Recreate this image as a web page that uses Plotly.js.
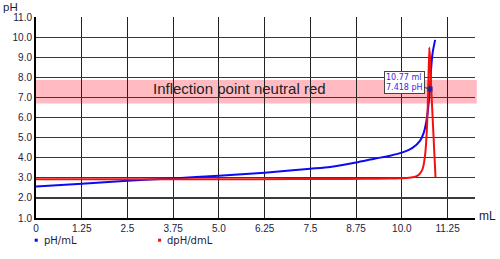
<!DOCTYPE html>
<html>
<head>
<meta charset="utf-8">
<script src="https://cdn.plot.ly/plotly-3.0.1.min.js"></script>
<style>html,body{margin:0;padding:0;background:#fff;}#chart{width:500px;height:259px;}</style>
</head>
<body>
<div id="chart"></div>
<script>
// pH titration curve (blue)
const phVolume = [0, 1.25, 2.5, 3.75, 5.0, 6.25, 7.5, 8.04, 8.75, 9.25, 9.68, 10.0, 10.3, 10.5, 10.6, 10.66, 10.71, 10.74, 10.77, 10.8, 10.84, 10.88, 10.91];
const phValues = [2.57, 2.71, 2.85, 2.97, 3.1, 3.25, 3.45, 3.54, 3.76, 3.95, 4.1, 4.25, 4.5, 4.85, 5.25, 5.7, 6.3, 6.85, 7.418, 8.4, 9.2, 9.6, 9.86];
// derivative dpH/dmL (red)
const dVolume = [0, 2, 4, 6, 8, 9, 9.68, 10, 10.2, 10.37, 10.48, 10.57, 10.64, 10.69, 10.72, 10.75, 10.77, 10.8, 10.86, 10.92];
const dValues = [2.93, 2.93, 2.93, 2.93, 2.94, 2.95, 2.96, 2.98, 3.0, 3.06, 3.18, 3.45, 4.2, 5.6, 7.3, 9.48, 9.0, 7.6, 5.3, 3.04];
// inflection point
const inflX = [10.77];
const inflY = [7.418];
const inflLabel = "10.77 ml<br>7.418 pH";
const bandLow = 6.7, bandHigh = 7.87;
const bandText = "Inflection point neutral red";
const xTickVals = [0, 1.25, 2.5, 3.75, 5.0, 6.25, 7.5, 8.75, 10.0, 11.25];
const xTickText = ["0", "1.25", "2.5", "3.75", "5.0", "6.25", "7.5", "8.75", "10.0", "11.25"];
const yTickVals = [1, 2, 3, 4, 5, 6, 7, 8, 9, 10, 11];
const yTickText = ["1.0", "2.0", "3.0", "4.0", "5.0", "6.0", "7.0", "8.0", "9.0", "10.0", "11.0"];
const seriesNames = ["pH/mL", "dpH/dmL"];
const seriesColors = ["#0a0af5", "#f51010"];

const txtColor = "#1c1c3c";
const tickFont = {family: "Liberation Sans, Arial, sans-serif", size: 10, color: txtColor};
const labelFont = {family: "DejaVu Sans, Tahoma, sans-serif", size: 10, color: txtColor};

const traces = [
  {x: phVolume, y: phValues, mode: "lines", name: seriesNames[0], line: {color: seriesColors[0], width: 2, shape: "spline", smoothing: 0.6}, hoverinfo: "skip"},
  {x: dVolume, y: dValues, mode: "lines", name: seriesNames[1], line: {color: seriesColors[1], width: 2, shape: "spline", smoothing: 0.5}, hoverinfo: "skip"},
  {x: inflX, y: inflY, mode: "markers", marker: {symbol: "square", size: 5, color: "#2020a0"}, hoverinfo: "skip"}
];

const layout = {
  width: 500, height: 259,
  margin: {l: 36, r: 25, t: 17, b: 41},
  paper_bgcolor: "#fff", plot_bgcolor: "#fff",
  showlegend: false,
  xaxis: {
    range: [0, 12], tickvals: xTickVals, ticktext: xTickText,
    showgrid: true, gridcolor: "#222", gridwidth: 1,
    showline: true, linecolor: "#000", linewidth: 2,
    ticks: "", ticklen: 0,
    zeroline: false, tickfont: tickFont
  },
  yaxis: {
    range: [1, 11], tickvals: yTickVals, ticktext: yTickText,
    showgrid: true, gridcolor: "#3a3a3a", gridwidth: 1.2,
    showline: true, linecolor: "#000", linewidth: 2,
    ticks: "", ticklen: 0,
    zeroline: false, tickfont: tickFont
  },
  shapes: [
    {type: "rect", layer: "below", xref: "paper", yref: "y", x0: 0, x1: 1.004, y0: bandLow, y1: bandHigh,
     fillcolor: "#ffbac2", line: {width: 0}},
    // legend markers
    {type: "rect", xref: "paper", yref: "paper", x0: -0.003, x1: 0.004, y0: -0.118, y1: -0.103, fillcolor: seriesColors[0], line: {width: 0}},
    {type: "rect", xref: "paper", yref: "paper", x0: 0.278, x1: 0.285, y0: -0.118, y1: -0.103, fillcolor: seriesColors[1], line: {width: 0}}
  ],
  annotations: [
    {x: 5.55, y: 7.42, xref: "x", yref: "y", text: bandText, showarrow: false,
     font: {family: "Liberation Sans, Arial, sans-serif", size: 15, color: "#222"}},
    {x: inflX[0], y: inflY[0], xref: "x", yref: "y", text: inflLabel, showarrow: true,
     arrowhead: 0, arrowwidth: 1, arrowcolor: "#333", ax: -26, ay: -7, standoff: 0,
     bgcolor: "#fff", bordercolor: "#444", borderwidth: 1, borderpad: 1, align: "left",
     font: {family: "DejaVu Sans, Tahoma, sans-serif", size: 8, color: "#3a2ae0"}},
    {x: -0.078, y: 1.0, xref: "paper", yref: "paper", xanchor: "left", yanchor: "top", yshift: 17, borderpad: 0,
     text: "pH", showarrow: false, font: {family: "Liberation Sans, Arial, sans-serif", size: 11.5, color: txtColor}},
    {x: 1.0, y: 0.0, xref: "paper", yref: "paper", xanchor: "left", yanchor: "middle", xshift: 2, yshift: 2,
     text: "mL", showarrow: false, font: {family: "Liberation Sans, Arial, sans-serif", size: 12, color: txtColor}},
    {x: 0.013, y: -0.11, xref: "paper", yref: "paper", xanchor: "left", yanchor: "middle",
     text: seriesNames[0], showarrow: false, font: labelFont},
    {x: 0.293, y: -0.11, xref: "paper", yref: "paper", xanchor: "left", yanchor: "middle",
     text: seriesNames[1], showarrow: false, font: labelFont}
  ]
};

Plotly.newPlot("chart", traces, layout, {staticPlot: true, displayModeBar: false});
</script>
</body>
</html>
